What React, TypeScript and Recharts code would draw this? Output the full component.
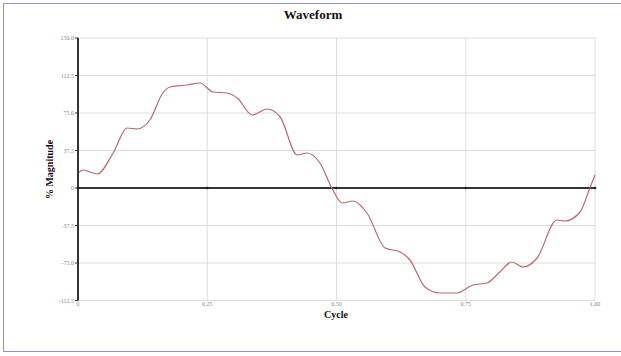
import React from 'react';
import { LineChart, Line, XAxis, YAxis, CartesianGrid, ReferenceLine, ReferenceDot } from 'recharts';

const cycle = [0, 0.01, 0.037, 0.068, 0.095, 0.114, 0.139, 0.164, 0.178, 0.211, 0.236, 0.261, 0.288, 0.308, 0.337, 0.366, 0.391, 0.424, 0.443, 0.468, 0.491, 0.511, 0.532, 0.559, 0.594, 0.623, 0.642, 0.671, 0.7, 0.733, 0.764, 0.791, 0.816, 0.839, 0.861, 0.888, 0.926, 0.942, 0.971, 0.99, 1.0];
const magnitude = [15, 18, 14, 35, 60, 59, 68, 95, 101, 103, 105, 96, 95, 90, 73, 79, 71, 33, 35, 25, 0, -15, -13, -25, -60, -64, -72, -99, -105, -105, -97, -95, -84, -74, -79, -70, -32, -33, -24, 0, 13];
const yTicks = [-112.5, -75, -37.5, 0, 37.5, 75, 112.5, 150];
const xTicks = [0, 0.25, 0.5, 0.75, 1];
const xTickLabels = ['0', '0.25', '0.50', '0.75', '1.00'];

const data = cycle.map((c, i) => ({ cycle: c, value: magnitude[i] }));

const serif = '"Liberation Serif", "DejaVu Serif", serif';

export default function App() {
  return (
    <div style={{ position: 'absolute', left: 0, top: 0, width: 621, height: 356, background: '#fff', overflow: 'hidden' }}>
      <div style={{ position: 'absolute', left: 3, top: 3, width: 660, height: 347, border: '1px solid #9090d4' }} />
      <div style={{ position: 'absolute', left: 0, top: 7, width: 626, textAlign: 'center', fontFamily: serif, fontWeight: 'bold', fontSize: 13, color: '#111' }}>Waveform</div>
      <div style={{ position: 'absolute', left: 336 - 50, top: 309, width: 100, textAlign: 'center', fontFamily: serif, fontWeight: 'bold', fontSize: 10, color: '#111' }}>Cycle</div>
      <div style={{ position: 'absolute', left: 49 - 50, top: 164, width: 100, textAlign: 'center', fontFamily: serif, fontWeight: 'bold', fontSize: 10, color: '#111', transform: 'rotate(-90deg)' }}>% Magnitude</div>
      <LineChart width={621} height={356} data={data} margin={{ top: 38, right: 26, bottom: 25.5, left: 48 }} style={{ position: 'absolute', left: 0, top: 0 }}>
        <CartesianGrid stroke="#dcdcdc" strokeWidth={1} />
        <XAxis
          dataKey="cycle"
          type="number"
          domain={[0, 1]}
          ticks={xTicks}
          tickFormatter={(v: number) => xTickLabels[xTicks.indexOf(v)]}
          axisLine={{ stroke: '#dcdcdc' }}
          tickLine={false}
          tickSize={1}
          tickMargin={0}
          tick={{ fill: '#888', fontSize: 6, fontFamily: serif }}
        />
        <YAxis
          type="number"
          domain={[-112.5, 150]}
          ticks={yTicks}
          width={30}
          interval={0}
          tickFormatter={(v: number) => (v === 0 ? '0' : v.toFixed(1))}
          axisLine={{ stroke: '#333', strokeWidth: 2 }}
          tickLine={{ stroke: '#333' }}
          tickSize={3}
          tickMargin={1}
          tick={{ fill: '#888', fontSize: 6, fontFamily: serif }}
        />
        <ReferenceLine y={0} stroke="#333" strokeWidth={2} />
        {xTicks.map((t) => (
          <ReferenceDot key={t} x={t} y={0} r={1.3} fill="#222" stroke="none" />
        ))}
        <Line type="monotone" dataKey="value" stroke="#b86a6e" strokeWidth={1.2} dot={false} isAnimationActive={false} />
      </LineChart>
    </div>
  );
}
